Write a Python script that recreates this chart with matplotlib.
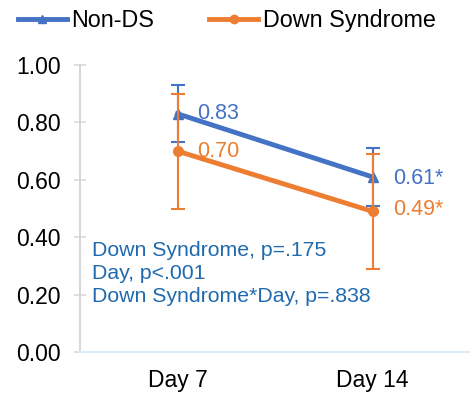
import matplotlib.pyplot as plt
from matplotlib.lines import Line2D

plt.rcParams['font.family'] = ['Liberation Sans', 'DejaVu Sans']

days = ['Day 7', 'Day 14']
non_ds = [0.83, 0.61]
non_ds_err = [0.10, 0.10]
down = [0.70, 0.49]
down_err = [0.20, 0.20]
non_ds_labels = ['0.83', '0.61*']
down_labels = ['0.70', '0.49*']
stats_text = ['Down Syndrome, p=.175', 'Day, p<.001', 'Down Syndrome*Day, p=.838']

blue = '#4472C4'
orange = '#ED7D31'

fig = plt.figure(figsize=(4.7, 3.95), dpi=100)
ax = fig.add_axes([80/470, 1-352/395, 390/470, 287/395])

x = list(range(len(days)))
ax.errorbar(x, non_ds, yerr=non_ds_err, color=blue, lw=3.5, marker='^', ms=7,
            ecolor=blue, elinewidth=1.5, capsize=5, capthick=1.5, zorder=3)
ax.errorbar(x, down, yerr=down_err, color=orange, lw=3.5, marker='o', ms=7,
            ecolor=orange, elinewidth=1.5, capsize=5, capthick=1.5, zorder=4)

ax.text(x[0] + 0.1, non_ds[0], non_ds_labels[0], color=blue, fontsize=15.5, va='center')
ax.text(x[0] + 0.1, down[0], down_labels[0], color=orange, fontsize=15.5, va='center')
ax.text(x[1] + 0.105, non_ds[1] - 0.005, non_ds_labels[1], color=blue, fontsize=15.5, va='center')
ax.text(x[1] + 0.105, down[1] + 0.005, down_labels[1], color=orange, fontsize=15.5, va='center')

for i, s in enumerate(stats_text):
    ax.text(-0.44, 0.353 - i * 0.08, s, color='#1F6AAE', fontsize=15.3, va='center')

ax.set_xlim(-0.5, 1.5)
ax.set_ylim(0, 1.0)
ax.set_xticks(x)
ax.set_xticklabels(days, fontsize=16.5)
ax.set_yticks([0, 0.2, 0.4, 0.6, 0.8, 1.0])
ax.set_yticklabels(['%.2f' % v for v in [0, 0.2, 0.4, 0.6, 0.8, 1.0]], fontsize=16.5)
ax.tick_params(axis='x', length=0, pad=12)
ax.tick_params(axis='y', direction='inout', length=8, width=1.2, color='#d9d9d9', pad=10)
for s in ['top', 'right']:
    ax.spines[s].set_visible(False)
ax.spines['left'].set_color('#d9d9d9')
ax.spines['left'].set_linewidth(1.5)
ax.spines['bottom'].set_color('#ddebf7')
ax.spines['bottom'].set_linewidth(1.5)

handles = [Line2D([], [], color=blue, lw=3.5, marker='^', ms=6),
           Line2D([], [], color=orange, lw=3.5, marker='o', ms=6)]
fig.legend(handles, ['Non-DS', 'Down Syndrome'], loc='upper left', bbox_to_anchor=(-0.007, 1.03),
           ncol=2, frameon=False, fontsize=16.8, handlelength=2.1, handletextpad=0.2,
           columnspacing=2.35)

fig.savefig('out.png', dpi=100)
